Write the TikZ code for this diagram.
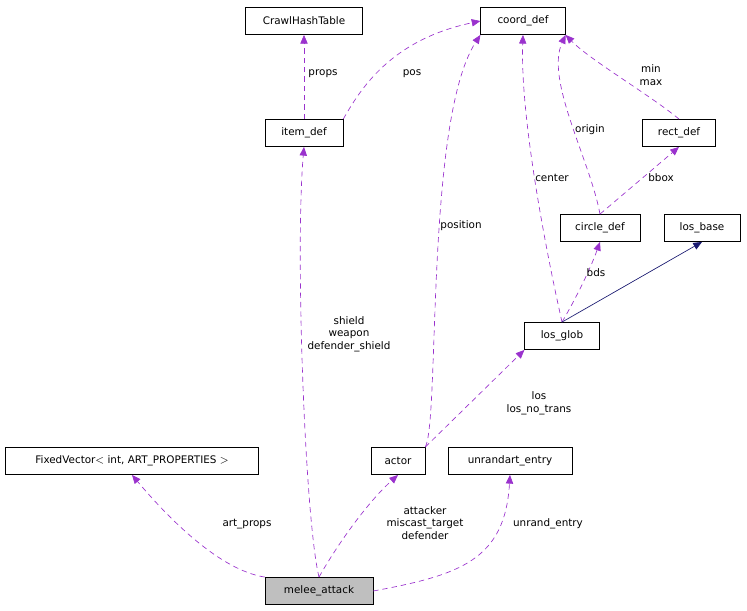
\documentclass[tikz,border=0pt]{standalone}
\usepackage{fontspec}
\setmainfont{DejaVu Sans}
\usetikzlibrary{arrows.meta}
\definecolor{edgepurple}{HTML}{9A32CD}
\definecolor{edgenavy}{HTML}{191970}
\tikzstyle{cls} = [draw, rectangle, inner sep=0pt, minimum height=20.5pt, font=\fontsize{7.8}{9.5}\selectfont]
\tikzstyle{use} = [draw=edgepurple, dash pattern=on 4pt off 3pt, -{Triangle[length=6.5pt,width=5.5pt,fill=edgepurple]}, line width=0.5pt]
\tikzstyle{inh} = [draw=edgenavy, -{Triangle[length=6.5pt,width=5.5pt,fill=edgenavy]}, line width=0.5pt]
\tikzstyle{lbl} = [align=center, font=\fontsize{7.8}{9.5}\selectfont, inner sep=0pt]
\begin{document}
\begin{tikzpicture}[x=0.75pt, y=-0.75pt]
	\useasboundingbox (0,0) rectangle (747,611);

	\node [cls, minimum width=88pt] (crawl) at (304,21) {CrawlHashTable};
	\node [cls, minimum width=63.5pt] (coord) at (523,21) {coord\_def};
	\node [cls, minimum width=58.5pt] (item) at (304,133) {item\_def};
	\node [cls, minimum width=55pt] (rect) at (679,133) {rect\_def};
	\node [cls, minimum width=60pt] (circle) at (600,228) {circle\_def};
	\node [cls, minimum width=57pt] (losbase) at (702,228) {los\_base};
	\node [cls, minimum width=56pt] (losglob) at (562,336) {los\_glob};
	\node [cls, minimum width=190pt] (fixvec) at (132,461) {FixedVector$<$ int, ART\_PROPERTIES $>$};
	\node [cls, minimum width=40.5pt] (actor) at (398,461) {actor};
	\node [cls, minimum width=93pt] (unrand) at (510,461) {unrandart\_entry};
	\node [cls, minimum width=81pt, fill=black!25] (melee) at (319,591) {melee\_attack};

	\path [use] (item.north) -- (crawl.south);
	\path [use] (item.north east) .. controls (360,90) and (390,40) .. (coord.west);
	\path [use] (melee.north) .. controls (305,520) and (295,250) .. (item.south);
	\path [use] (actor.north east) .. controls (440,420) and (425,120) .. (coord.south west);
	\path [use] (losglob.north) .. controls (548,260) and (520,120) .. (coord.south);
	\path [use] (circle.north) .. controls (590,160) and (545,80) .. (coord.south east);
	\path [use] (rect.north) .. controls (650,95) and (590,60) .. (coord.south east);
	\path [use] (circle.north) -- (rect.south);
	\path [use] (losglob.north) .. controls (575,300) and (590,270) .. (circle.south);
	\path [inh] (losglob.north) -- (losbase.south);
	\path [use] (actor.north east) -- (losglob.south west);
	\path [use] (melee.north west) .. controls (220,570) and (170,520) .. (fixvec.south);
	\path [use] (melee.north) .. controls (340,540) and (370,500) .. (actor.south);
	\path [use] (melee.east) .. controls (460,575) and (505,560) .. (unrand.south);

	\node [lbl] (lprops) at (323,74) {props};
	\node [lbl] (lpos) at (412,74) {pos};
	\node [lbl] (lmin) at (651,75) {min\\max};
	\node [lbl] (lorigin) at (590,130) {origin};
	\node [lbl] (lbbox) at (661,178) {bbox};
	\node [lbl] (lcenter) at (552,178) {center};
	\node [lbl] (lposition) at (461,226) {position};
	\node [lbl] (lbds) at (596,273) {bds};
	\node [lbl] (lshield) at (349,334) {shield\\weapon\\defender\_shield};
	\node [lbl] (llos) at (539,403) {los\\los\_no\_trans};
	\node [lbl] (lart) at (247,524) {art\_props};
	\node [lbl] (latt) at (425,523) {attacker\\miscast\_target\\defender};
	\node [lbl] (lunrand) at (548,524) {unrand\_entry};
\end{tikzpicture}
\end{document}
